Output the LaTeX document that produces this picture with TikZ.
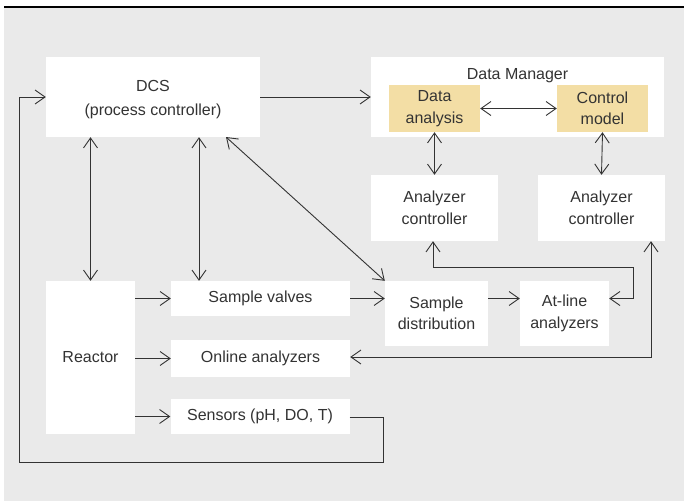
\documentclass[tikz,border=0pt]{standalone}
\usepackage{fontspec}
\setmainfont{Liberation Sans}
\usetikzlibrary{arrows.meta}
\definecolor{panel}{HTML}{EAEAEA}
\definecolor{ink}{HTML}{333333}
\definecolor{hilite}{HTML}{F3DEA5}
\tikzset{
  box/.style={fill=white, draw=none, text=ink, align=center, inner sep=0pt,
    font=\fontsize{16}{21.5}\selectfont},
  subbox/.style={box, fill=hilite},
  caption/.style={text=ink, align=center, inner sep=0pt, font=\fontsize{16}{24}\selectfont},
  link/.style={draw=ink, line width=0.9pt,
    arrows={-Straight Barb[length=10pt,width=14pt,line width=0.9pt]}},
  dlink/.style={link, arrows={Straight Barb[length=10pt,width=14pt,line width=0.9pt]-Straight Barb[length=10pt,width=14pt,line width=0.9pt]}}
}
\newcommand{\boxat}[6]{\node[#1, minimum width=#4pt, minimum height=#5pt] (#2) at (#3) {#6};}
\begin{document}
\begin{tikzpicture}[x=1pt,y=-1pt]
  \useasboundingbox (0,0) rectangle (684,501);
  \fill[panel] (4,8) rectangle (684,501);
  \draw[black, line width=1.4pt] (4,7) -- (684,7);

  % upper level
  \boxat{box}{dcs}{153,97}{214}{80}{}
  \node[caption] (dcstext) at (153,100) {DCS\\(process controller)};
  \boxat{box}{dm}{517.5,97}{293}{80}{}
  \node[caption] (dmlabel) at (517.5,75.5) {Data Manager};
  \boxat{subbox}{da}{434.5,108.5}{91}{47}{Data\\analysis}
  \boxat{subbox}{cm}{602.5,108.5}{91}{47}{Control\\model}
  \boxat{box}{ac1}{434.5,208}{127}{66}{Analyzer\\controller}
  \boxat{box}{ac2}{601.5,208}{127}{66}{Analyzer\\controller}

  % process level
  \boxat{box}{reactor}{90.5,357.5}{89}{153}{Reactor}
  \boxat{box}{sv}{260.5,298.5}{179}{35}{Sample valves}
  \boxat{box}{oa}{260.5,358.5}{179}{37}{Online analyzers}
  \boxat{box}{sen}{260,416.5}{179}{35}{Sensors (pH, DO, T)}
  \boxat{box}{sd}{436.5,313.5}{103}{65}{Sample\\distribution}
  \boxat{box}{at}{564.5,313.5}{89}{65}{At-line\\analyzers}

  % helper points for the routed lines
  \coordinate (fbA) at (633,267);
  \coordinate (fbB) at (633,298.5);
  \coordinate (olA) at (651,357);
  \coordinate (loopA) at (383,417);
  \coordinate (loopB) at (383,462);
  \coordinate (loopC) at (19,462);
  \coordinate (loopD) at (19,97);

  % DCS links
  \draw[dlink] (dcs.south -| reactor.north) -- (reactor.north);
  \draw[dlink] (dcs.south -| 199,0) -- (sv.north -| 199,0);
  \draw[dlink] (226,137) -- (sd.north west);
  \draw[link] (dcs.east) -- (dm.west);

  % Data Manager links
  \draw[dlink] (da.east) -- (cm.west);
  \draw[dlink] (da.south) -- (ac1.north);
  \draw[dlink] (cm.south) -- (ac2.north);

  % sample path
  \draw[link] (reactor.east |- sv.west) -- (sv.west);
  \draw[link] (reactor.east |- oa.west) -- (oa.west);
  \draw[link] (reactor.east |- sen.west) -- (sen.west);
  \draw[link] (sv.east) -- (sd.west |- sv.east);
  \draw[link] (sd.east |- sv.east) -- (at.west |- sv.east);

  % analyzer controller feedback
  \draw[dlink] ([xshift=-1.5pt]ac1.south) |- (fbA) -- (fbB) -- (at.east |- fbB);
  \draw[dlink] (oa.east |- olA) -- (olA) -- (olA |- ac2.south);

  % sensor loop back to the DCS
  \draw[link] (sen.east |- loopA) -- (loopA) -- (loopB) -- (loopC) -- (loopD) -- (dcs.west);
\end{tikzpicture}
\end{document}
